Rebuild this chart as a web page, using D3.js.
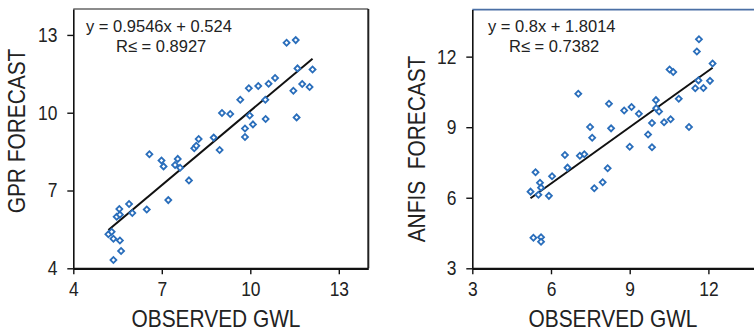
<!DOCTYPE html>
<html>
<head>
<meta charset="utf-8">
<script src="https://cdn.jsdelivr.net/npm/d3@7"></script>
<style>
  body { margin: 0; background: #fff; }
  svg { display: block; font-family: "Liberation Sans", Arial, sans-serif; }
</style>
</head>
<body>
<svg id="chart" width="754" height="331"></svg>
<script>
// observed vs. GPR forecast
const gprObserved = [5.19, 5.30, 5.36, 5.47, 5.56, 5.58, 5.58, 5.62, 5.36, 5.89, 6.00, 6.49, 6.58, 6.99, 7.06, 7.22,
  7.45, 7.54, 7.62, 7.92, 8.10, 8.17, 8.25, 8.76, 8.96, 9.04, 9.32, 9.66, 9.82, 9.82, 9.95, 9.98, 10.09, 10.27,
  10.51, 10.52, 10.62, 10.84, 11.23, 11.54, 11.46, 11.57, 11.60, 11.76, 12.01, 12.11];
const gprForecast = [5.31, 5.41, 5.14, 5.99, 6.29, 6.07, 5.07, 4.67, 4.32, 6.48, 6.13, 6.27, 8.40, 8.16, 7.93, 6.63,
  7.98, 8.22, 7.88, 7.39, 8.63, 8.73, 8.99, 9.04, 8.56, 9.99, 9.95, 10.50, 9.06, 9.39, 10.94, 9.89, 9.55, 11.03,
  10.50, 9.76, 11.12, 11.34, 12.70, 12.80, 10.85, 9.82, 11.71, 11.11, 10.99, 11.67];

// observed vs. ANFIS forecast
const anfisObserved = [5.22, 5.33, 5.41, 5.52, 5.58, 5.62, 5.62, 5.62, 5.92, 6.04, 6.53, 6.63, 7.04, 7.10, 7.27, 7.49,
  7.57, 7.65, 7.97, 8.16, 8.21, 8.29, 8.79, 9.00, 9.07, 9.35, 9.70, 9.85, 9.85, 10.00, 10.01, 10.12, 10.31, 10.52,
  10.56, 10.66, 10.87, 11.26, 11.50, 11.56, 11.62, 11.64, 11.81, 12.06, 12.16];
const anfisForecast = [6.26, 4.30, 7.08, 6.13, 6.64, 6.43, 4.32, 4.13, 6.08, 6.91, 7.82, 7.28, 10.42, 7.79, 7.85, 9.01,
  8.55, 6.40, 6.66, 7.25, 10.00, 8.95, 9.71, 8.17, 9.86, 9.57, 8.69, 8.15, 9.18, 10.15, 9.81, 9.67, 9.21, 11.45,
  9.34, 11.35, 10.21, 9.01, 10.66, 12.22, 10.99, 12.74, 10.67, 10.97, 11.71];

const gprFit = { slope: 0.9546, intercept: 0.524, r2: "0.8927" };
const anfisFit = { slope: 0.8, intercept: 1.8014, r2: "0.7382" };

const gprTicks = [4, 7, 10, 13];
const anfisTicks = [3, 6, 9, 12];

const svg = d3.select("#chart");
const pointColor = "#2a6ebb";
const squeeze = 0.87; // reference type is a condensed grotesque

function panel(cfg) {
  const x = d3.scaleLinear().domain(cfg.xDomain).range(cfg.xRange);
  const y = d3.scaleLinear().domain(cfg.yDomain).range(cfg.yRange);
  const g = svg.append("g");

  // frame top + right
  g.append("line")
    .attr("x1", x(cfg.xDomain[0])).attr("x2", x(cfg.xDomain[1]))
    .attr("y1", y(cfg.yDomain[1])).attr("y2", y(cfg.yDomain[1]))
    .attr("stroke", cfg.topColor).attr("stroke-width", 1.6);
  g.append("line")
    .attr("x1", x(cfg.xDomain[1])).attr("x2", x(cfg.xDomain[1]))
    .attr("y1", y(cfg.yDomain[1])).attr("y2", y(cfg.yDomain[0]))
    .attr("stroke", "#222").attr("stroke-width", 2);

  const xAxis = g.append("g")
    .attr("transform", `translate(0,${y(cfg.yDomain[0])})`)
    .call(d3.axisBottom(x).tickValues(cfg.ticksX).tickSize(6).tickSizeOuter(0).tickPadding(8));
  const yAxis = g.append("g")
    .attr("transform", `translate(${x(cfg.xDomain[0])},0)`)
    .call(d3.axisLeft(y).tickValues(cfg.ticksY).tickSize(6).tickSizeOuter(0));

  xAxis.select(".domain").attr("stroke", "#111").attr("stroke-width", 2.2);
  yAxis.select(".domain").attr("stroke", "#111").attr("stroke-width", 1.6);
  [xAxis, yAxis].forEach(a => {
    a.selectAll(".tick line").attr("stroke", "#111").attr("stroke-width", 1.4);
    a.selectAll(".tick text").attr("font-size", 20).attr("fill", "#222")
      .attr("font-family", "\"Liberation Sans\", Arial, sans-serif");
  });
  xAxis.selectAll(".tick text").attr("transform", `scale(${squeeze},1)`);
  yAxis.selectAll(".tick text").attr("x", -16 / squeeze).attr("transform", `scale(${squeeze},1)`);

  // regression line
  const ext = d3.extent(cfg.xs);
  const line = d3.line().x(d => x(d)).y(d => y(cfg.fit.slope * d + cfg.fit.intercept));
  g.append("path").attr("d", line(ext)).attr("stroke", "#111").attr("stroke-width", 2).attr("fill", "none");

  // points
  const sym = d3.symbol().type(d3.symbolSquare).size(18);
  g.selectAll(".pt").data(cfg.xs.map((v, i) => [v, cfg.ys[i]])).join("path")
    .attr("d", sym)
    .attr("transform", d => `translate(${x(d[0])},${y(d[1])}) rotate(45)`)
    .attr("fill", "#fff").attr("stroke", pointColor).attr("stroke-width", 1.8);

  // equation
  g.append("text").attr("x", cfg.eqX).attr("y", 32).attr("font-size", 16.5).attr("fill", "#222")
    .text(`y = ${cfg.fit.slope}x + ${cfg.fit.intercept}`);
  g.append("text").attr("x", cfg.eqX + cfg.r2Dx).attr("y", 52).attr("font-size", 16.5).attr("fill", "#222")
    .text(`R≤ = ${cfg.fit.r2}`);

  // axis titles
  g.append("text").attr("transform", `translate(${cfg.xTitleX},327) scale(${squeeze},1)`)
    .attr("text-anchor", "middle").attr("font-size", 24).attr("fill", "#222").text("OBSERVED GWL");
  g.append("text").attr("transform", `translate(${cfg.yTitleX},${cfg.yTitleY}) rotate(-90) scale(${squeeze},1)`)
    .attr("text-anchor", "middle").attr("font-size", 24).attr("fill", "#222")
    .style("white-space", "pre").text(cfg.yTitle);
}

panel({
  xDomain: [4, 14], xRange: [73.3, 368.3],
  yDomain: [4, 14], yRange: [268.3, 9],
  ticksX: gprTicks, ticksY: gprTicks,
  xs: gprObserved, ys: gprForecast, fit: gprFit,
  topColor: "#666", eqX: 86, r2Dx: 30,
  xTitleX: 216, yTitleX: 25, yTitleY: 131, yTitle: "GPR FORECAST"
});

panel({
  xDomain: [3, 15], xRange: [472.3, 787.1],
  yDomain: [3, 14], yRange: [268.3, 9.6],
  ticksX: anfisTicks, ticksY: anfisTicks,
  xs: anfisObserved, ys: anfisForecast, fit: anfisFit,
  topColor: "#4a6fa5", eqX: 488, r2Dx: 21,
  xTitleX: 613, yTitleX: 425, yTitleY: 149, yTitle: "ANFIS  FORECAST"
});
</script>
</body>
</html>
